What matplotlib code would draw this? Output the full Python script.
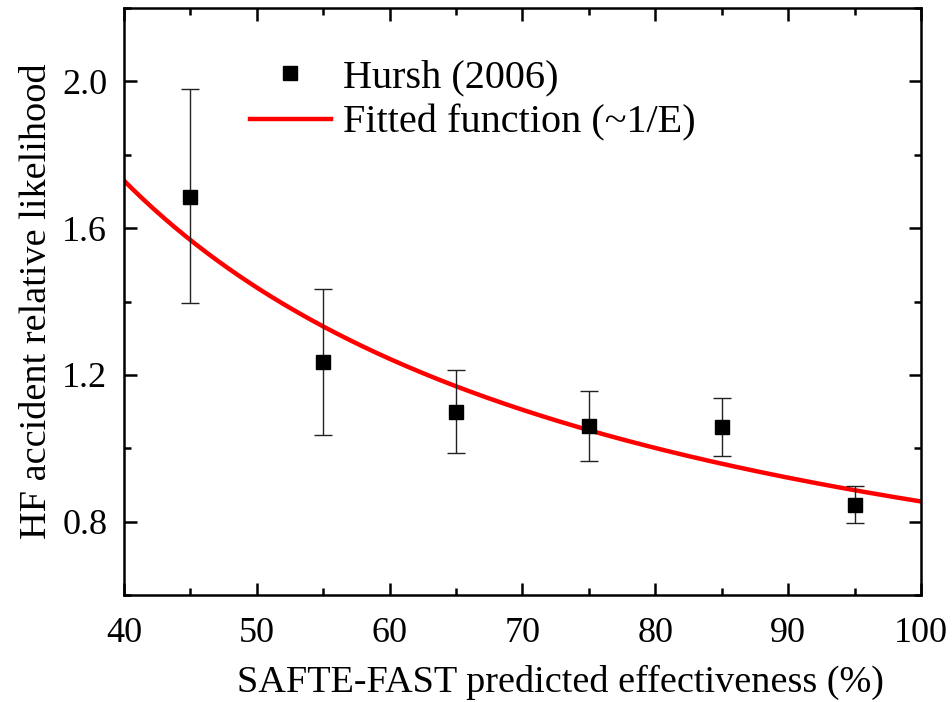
import numpy as np
import matplotlib
matplotlib.use("Agg")
import matplotlib.pyplot as plt
from matplotlib.ticker import MultipleLocator
from matplotlib.lines import Line2D

plt.rcParams['font.family'] = ['Liberation Serif', 'DejaVu Serif']

# Data (Hursh 2006)
effectiveness = [45, 55, 65, 75, 85, 95]
likelihood = [1.686, 1.236, 1.100, 1.062, 1.059, 0.846]
err_upper = [1.978, 1.435, 1.212, 1.157, 1.138, 0.898]
err_lower = [1.395, 1.035, 0.988, 0.966, 0.980, 0.795]

# Fitted function ~ a + b/E
fit_a = 0.272
fit_b = 58.3
fit_range = (40, 100)

fig = plt.figure(figsize=(9.53, 7.02), dpi=100)
ax = fig.add_axes([0.1301, 0.1524, 0.8363, 0.8362])

x = np.array(effectiveness)
y = np.array(likelihood)
yerr = np.array([y - np.array(err_lower), np.array(err_upper) - y])
ax.errorbar(x, y, yerr=yerr, fmt='s', color='black', ms=10, ecolor='#222222',
            elinewidth=1.0, capsize=6.5, capthick=1.0, zorder=3)

xf = np.linspace(fit_range[0], fit_range[1], 300)
ax.plot(xf, fit_a + fit_b / xf, color='#ff0000', lw=3.2, zorder=2)

ax.set_xlim(40, 100)
ax.set_ylim(0.6, 2.2)
ax.xaxis.set_major_locator(MultipleLocator(10))
ax.xaxis.set_minor_locator(MultipleLocator(5))
ax.yaxis.set_minor_locator(MultipleLocator(0.2))
ax.set_yticks([0.8, 1.2, 1.6, 2.0])
ax.set_yticklabels(['0.8', '1.2', '1.6', '2.0'])

ax.tick_params(which='both', direction='in', top=True, right=True, width=1.8, labelsize=26)
ax.tick_params(which='major', length=9)
ax.tick_params(axis='x', which='major', pad=16)
ax.tick_params(axis='y', which='major', pad=12)
ax.tick_params(which='minor', length=5)
for s in ax.spines.values():
    s.set_linewidth(1.8)

ax.set_xlabel('SAFTE-FAST predicted effectiveness (%)', fontsize=27.5)
ax.xaxis.set_label_coords(0.548, -0.118)
ax.set_ylabel('HF accident relative likelihood', fontsize=27.5, labelpad=6)

h1 = Line2D([], [], marker='s', color='black', ls='none', ms=10)
h2 = Line2D([], [], color='#ff0000', lw=3.2)
leg = ax.legend([h1, h2], ['Hursh (2006)', 'Fitted function (~1/E)'], loc='upper left',
                bbox_to_anchor=(0.138, 0.94), frameon=False,
                fontsize=29, handlelength=2.0, handletextpad=0.3, labelspacing=0.2,
                borderaxespad=0)

fig.savefig('out.png', dpi=100)
